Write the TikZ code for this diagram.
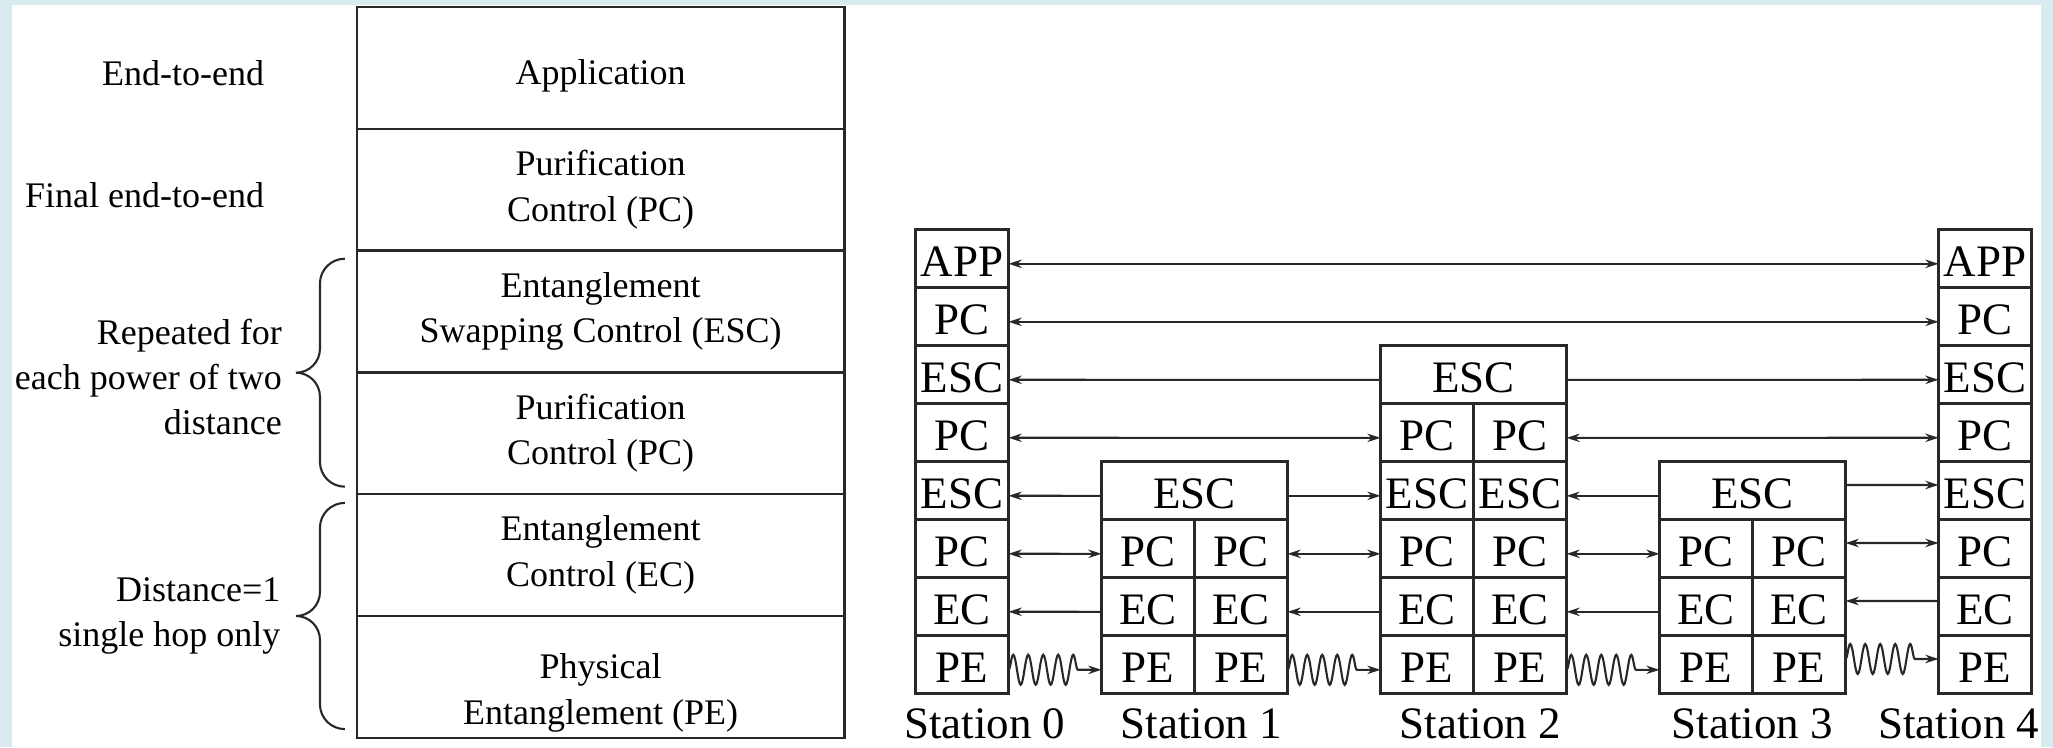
\documentclass[tikz,border=0pt]{standalone}
\usepackage{fontspec}
\setmainfont{Liberation Serif}
\usepackage{tikz}
\usetikzlibrary{positioning,arrows.meta,decorations.pathmorphing}
\definecolor{framecyan}{RGB}{217,235,239}
\definecolor{linegray}{RGB}{40,40,40}

\begin{document}
\begin{tikzpicture}[
    every node/.style={align=center},
    >={Stealth[length=4.4pt,width=2.8pt]},
    layer/.style={rectangle, draw=linegray, line width=0.8pt, minimum width=162.5pt, minimum height=40.6pt, inner sep=0pt, outer sep=0pt, font=\fontsize{12}{15.2}\selectfont},
    side/.style={align=right, inner sep=0pt, font=\fontsize{12}{15}\selectfont},
    cell/.style={rectangle, draw=linegray, line width=0.8pt, minimum width=31pt, minimum height=19.33pt, inner sep=0pt, outer sep=0pt, text height=11.9pt, text depth=0pt, font=\fontsize{15}{18}\selectfont},
    widecell/.style={cell, minimum width=62pt},
    stationlabel/.style={inner sep=0pt, font=\fontsize{15}{18}\selectfont},
    link/.style={line width=0.7pt, draw=linegray, transform canvas={yshift=-1.8pt}},
    linkup/.style={line width=0.7pt, draw=linegray, transform canvas={yshift=1.8pt}},
    wave/.style={->, decorate, decoration={snake, amplitude=5pt, segment length=5pt, post length=7pt}},
    bracepen/.style={line width=0.7pt, draw=linegray}
]

% Frame
\useasboundingbox (0,0) rectangle (684.33pt,-249pt);
\fill[framecyan] (0,0) rectangle (684.33pt,-249pt);
\fill[white] (4pt,-1.67pt) rectangle (680.33pt,-249pt);

% Protocol stack
\node[layer, text height=10.8pt, text depth=0pt] (lapp) at (200.2pt,-22.63pt) {Application};
\node[layer, below=0pt of lapp] (lpc1) {Purification\\Control (PC)};
\node[layer, below=0pt of lpc1] (lesc) {Entanglement\\Swapping Control (ESC)};
\node[layer, below=0pt of lesc] (lpc2) {Purification\\Control (PC)};
\node[layer, below=0pt of lpc2] (lec) {Entanglement\\Control (EC)};
\node[layer, below=0pt of lec, text height=31.6pt, text depth=0pt] (lpe) {Physical\\Entanglement (PE)};

% Stack annotations
\node[side, left=30.7pt of lapp, yshift=-1.7pt] (endtoend) {End-to-end};
\node[side, left=30.7pt of lpc1, yshift=-1.7pt] (finalend) {Final end-to-end};
\node[side, left=24.8pt of lesc.south west, yshift=-1.5pt] (repeated) {Repeated for\\each power of two\\distance};
\node[side, left=25.3pt of lec.south west] (singlehop) {Distance=1\\single hop only};

\draw[bracepen] ([xshift=-4pt,yshift=-2.7pt]lesc.north west) to[out=180,in=90] ++(-8.3pt,-8.3pt) -- ++(0,-21.7pt) to[out=-90,in=0] ++(-8pt,-8pt) to[out=0,in=90] ++(8pt,-8pt) -- ++(0,-21.7pt) to[out=-90,in=180] ++(8.3pt,-8.3pt);
\draw[bracepen] ([xshift=-4pt,yshift=-2.9pt]lec.north west) to[out=180,in=90] ++(-8.3pt,-8.3pt) -- ++(0,-21.4pt) to[out=-90,in=0] ++(-8pt,-8pt) to[out=0,in=90] ++(8pt,-8pt) -- ++(0,-21.4pt) to[out=-90,in=180] ++(8.3pt,-8.3pt);

% Station 0
\node[cell] (s0app) at (320.67pt,-86.13pt) {APP};
\node[cell, below=0pt of s0app] (s0pc1) {PC};
\node[cell, below=0pt of s0pc1] (s0esc1) {ESC};
\node[cell, below=0pt of s0esc1] (s0pc2) {PC};
\node[cell, below=0pt of s0pc2] (s0esc2) {ESC};
\node[cell, below=0pt of s0esc2] (s0pc3) {PC};
\node[cell, below=0pt of s0pc3] (s0ec) {EC};
\node[cell, below=0pt of s0ec] (s0pe) {PE};

% Station 1
\node[cell] (s1pel) at (382.67pt,-221.47pt) {PE};
\node[cell, right=0pt of s1pel] (s1per) {PE};
\node[cell, above=0pt of s1pel] (s1ecl) {EC};
\node[cell, right=0pt of s1ecl] (s1ecr) {EC};
\node[cell, above=0pt of s1ecl] (s1pcl) {PC};
\node[cell, right=0pt of s1pcl] (s1pcr) {PC};
\node[widecell, above=0pt of s1pcl.north east] (s1esc) {ESC};

% Station 2
\node[cell] (s2pel) at (475.67pt,-221.47pt) {PE};
\node[cell, right=0pt of s2pel] (s2per) {PE};
\node[cell, above=0pt of s2pel] (s2ecl) {EC};
\node[cell, right=0pt of s2ecl] (s2ecr) {EC};
\node[cell, above=0pt of s2ecl] (s2pcl) {PC};
\node[cell, right=0pt of s2pcl] (s2pcr) {PC};
\node[cell, above=0pt of s2pcl] (s2escl) {ESC};
\node[cell, right=0pt of s2escl] (s2escr) {ESC};
\node[cell, above=0pt of s2escl] (s2pcul) {PC};
\node[cell, right=0pt of s2pcul] (s2pcur) {PC};
\node[widecell, above=0pt of s2pcul.north east] (s2esc) {ESC};

% Station 3
\node[cell] (s3pel) at (568.67pt,-221.47pt) {PE};
\node[cell, right=0pt of s3pel] (s3per) {PE};
\node[cell, above=0pt of s3pel] (s3ecl) {EC};
\node[cell, right=0pt of s3ecl] (s3ecr) {EC};
\node[cell, above=0pt of s3ecl] (s3pcl) {PC};
\node[cell, right=0pt of s3pcl] (s3pcr) {PC};
\node[widecell, above=0pt of s3pcl.north east] (s3esc) {ESC};

% Station 4
\node[cell] (s4app) at (661.67pt,-86.13pt) {APP};
\node[cell, below=0pt of s4app] (s4pc1) {PC};
\node[cell, below=0pt of s4pc1] (s4esc1) {ESC};
\node[cell, below=0pt of s4esc1] (s4pc2) {PC};
\node[cell, below=0pt of s4pc2] (s4esc2) {ESC};
\node[cell, below=0pt of s4esc2] (s4pc3) {PC};
\node[cell, below=0pt of s4pc3] (s4ec) {EC};
\node[cell, below=0pt of s4ec] (s4pe) {PE};

% Station names
\node[stationlabel, below=4.8pt of s0pe, xshift=7.6pt] (name0) {Station 0};
\node[stationlabel, below=4.8pt of s1pel.south east, xshift=2.3pt] (name1) {Station 1};
\node[stationlabel, below=4.8pt of s2pel.south east, xshift=2.3pt] (name2) {Station 2};
\node[stationlabel, below=4.8pt of s3pel.south east] (name3) {Station 3};
\node[stationlabel, below=4.8pt of s4pe, xshift=-8.8pt] (name4) {Station 4};

% End-to-end links
\draw[link, <->] (s0app) -- (s4app);
\draw[link, <->] (s0pc1) -- (s4pc1);

% Distance two links
\draw[link, ->] (s2esc) -- (s0esc1);
\draw[link, ->] (s2esc) -- (s4esc1);
\draw[link, <->] (s0pc2) -- (s2pcul);
\draw[link, <->] (s2pcur) -- (s4pc2);

% Single hop links
\draw[link, ->] (s1esc) -- (s0esc2);
\draw[link, ->] (s1esc) -- (s2escl);
\draw[link, ->] (s3esc) -- (s2escr);
\draw[linkup, ->] (s3esc) -- (s4esc2);
\draw[link, <->] (s0pc3) -- (s1pcl);
\draw[link, <->] (s1pcr) -- (s2pcl);
\draw[link, <->] (s2pcr) -- (s3pcl);
\draw[linkup, <->] (s3pcr) -- (s4pc3);
\draw[link, ->] (s1ecl) -- (s0ec);
\draw[link, ->] (s2ecl) -- (s1ecr);
\draw[link, ->] (s3ecl) -- (s2ecr);
\draw[linkup, ->] (s4ec) -- (s3ecr);

% Physical links
\draw[link, wave] (s0pe) -- (s1pel);
\draw[link, wave] (s1per) -- (s2pel);
\draw[link, wave] (s2per) -- (s3pel);
\draw[linkup, wave] (s3per) -- (s4pe);

\end{tikzpicture}
\end{document}
